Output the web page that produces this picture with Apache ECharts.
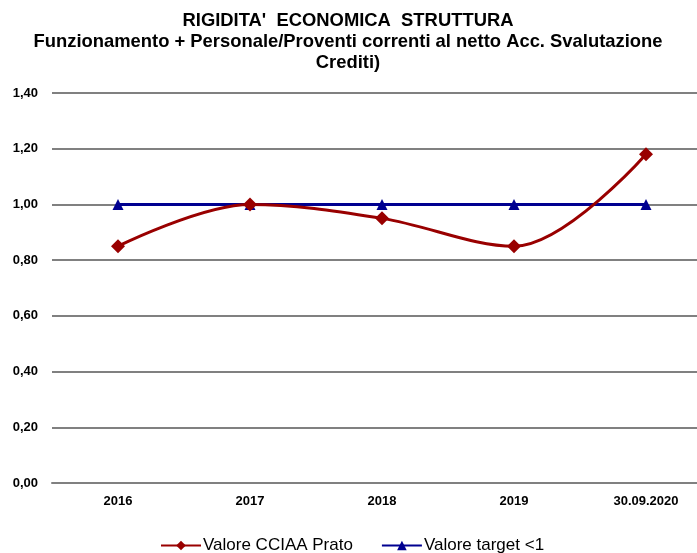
<!DOCTYPE html>
<html><head><meta charset="utf-8">
<script src="https://cdn.jsdelivr.net/npm/echarts@6/dist/echarts.min.js"></script>
<style>html,body{margin:0;padding:0;background:#fff;overflow:hidden;width:697px;height:553px}#c{width:712px;height:553px}</style>
</head><body><div id="c"></div>
<script>
const categories = ['2016','2017','2018','2019','30.09.2020'];
const valoreCCIAA = [0.85, 1.00, 0.95, 0.85, 1.18];
const valoreTarget = [1, 1, 1, 1, 1];
const yTicks = [0, 0.2, 0.4, 0.6, 0.8, 1.0, 1.2, 1.4];

const chart = echarts.init(document.getElementById('c'));
chart.setOption({
  animation: false,
  backgroundColor: '#fff',
  title: {
    text: "RIGIDITA'  ECONOMICA  STRUTTURA\nFunzionamento + Personale/Proventi correnti al netto Acc. Svalutazione\nCrediti)",
    left: 343, textAlign: 'center', top: 5,
    textStyle: {fontFamily: 'Liberation Sans', fontWeight: 'bold', fontSize: 18.4, color: '#000', lineHeight: 21}
  },
  legend: {
    top: 532, left: 155, itemGap: 28, itemWidth: 40, itemHeight: 12,
    textStyle: {fontFamily: 'Liberation Sans', fontSize: 17, color: '#000', padding: [0,0,0,-3]},
    data: ['Valore CCIAA Prato', 'Valore target <1']
  },
  grid: {left: 52, top: 93, right: 0, height: 390, containLabel: false},
  xAxis: {
    type: 'category', data: categories, boundaryGap: true,
    axisLine: {lineStyle: {color: '#808080', width: 2}},
    axisTick: {show: false},
    axisLabel: {fontFamily: 'Liberation Sans', fontWeight: 'bold', fontSize: 13, color: '#000', margin: 12}
  },
  yAxis: {
    type: 'value', min: 0, max: 1.4, interval: 0.2,
    axisLine: {show: false}, axisTick: {show: false},
    splitLine: {lineStyle: {color: '#808080', width: 2}},
    axisLabel: {fontFamily: 'Liberation Sans', fontWeight: 'bold', fontSize: 13, color: '#000', margin: 14,
      formatter: v => v.toFixed(2).replace('.', ',')}
  },
  series: [
    {name: 'Valore CCIAA Prato', type: 'line', data: valoreCCIAA, smooth: 0.35,
     symbol: 'diamond', symbolSize: 14, z: 3,
     lineStyle: {color: '#990000', width: 3}, itemStyle: {color: '#990000'}},
    {name: 'Valore target <1', type: 'line', data: valoreTarget,
     symbol: 'triangle', symbolSize: 11, z: 2,
     lineStyle: {color: '#000090', width: 3}, itemStyle: {color: '#000090'}}
  ]
});
</script></body></html>
